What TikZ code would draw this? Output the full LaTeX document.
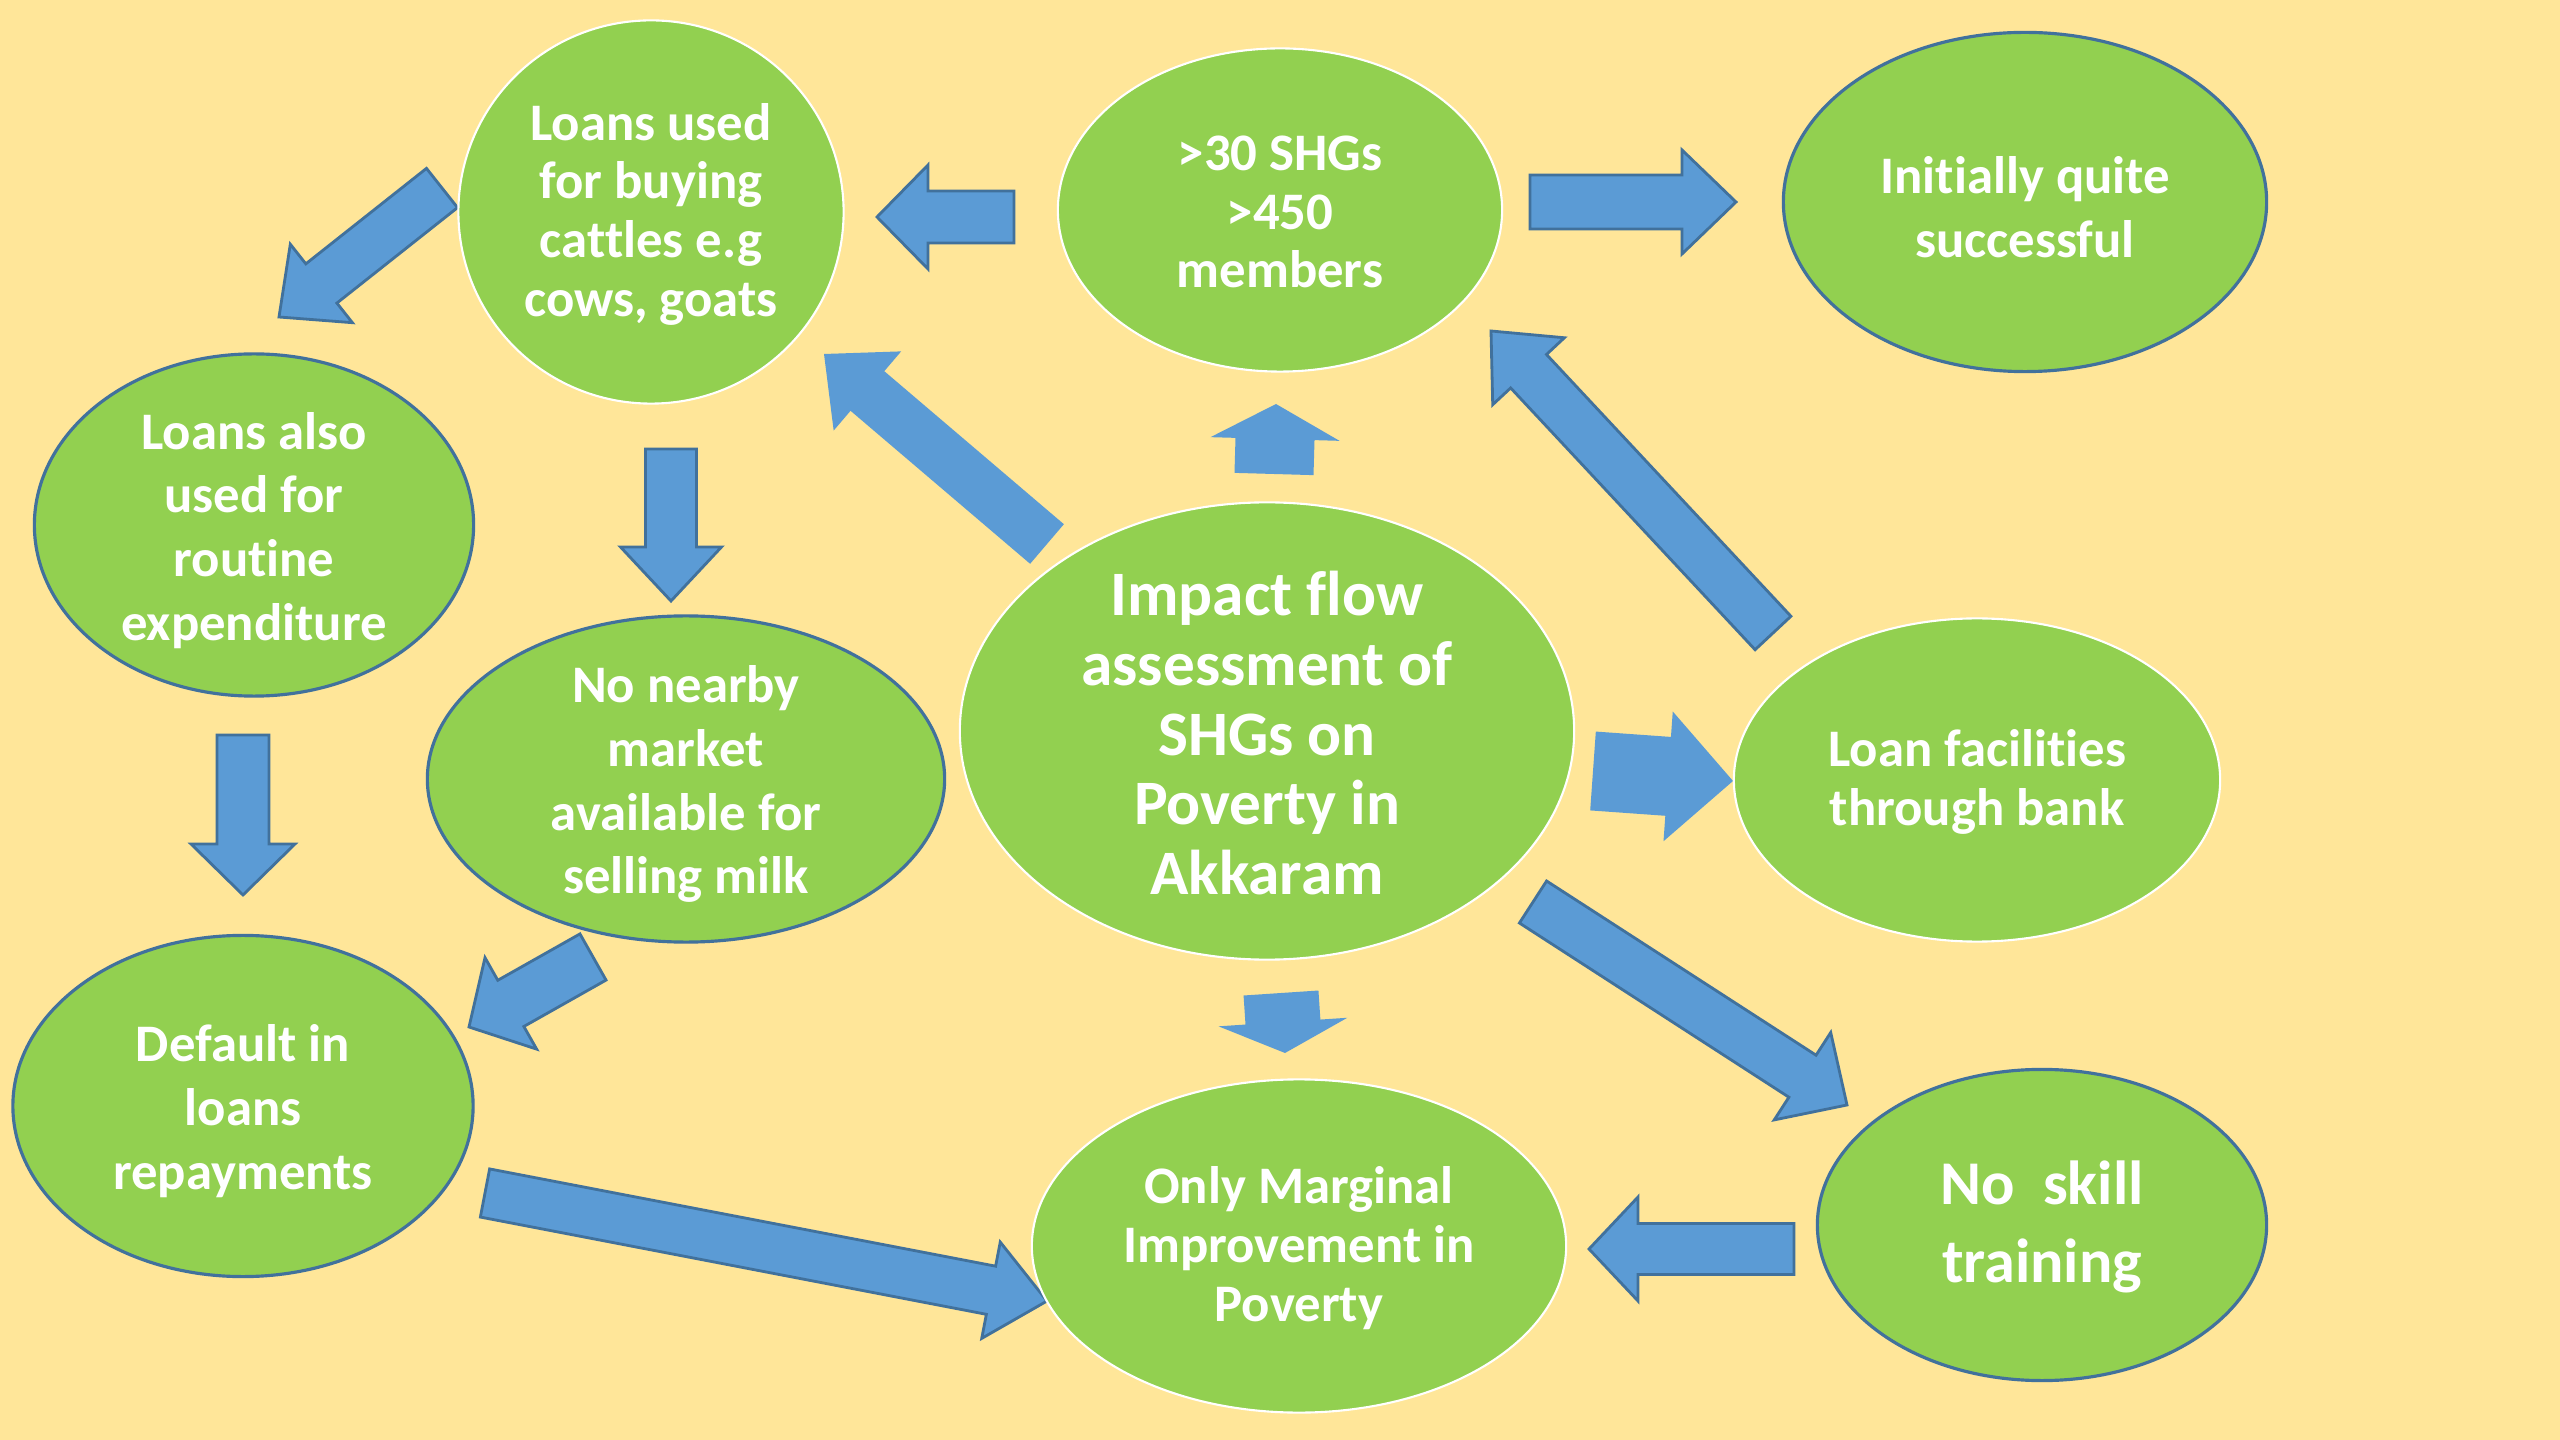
\documentclass[tikz,border=0pt]{standalone}
\usepackage{fontspec}
\setmainfont{Carlito}[Ligatures={NoCommon,NoContextual}]
\usetikzlibrary{shapes.geometric,calc}

\definecolor{paper}{HTML}{FFE699}
\definecolor{leaf}{HTML}{92D050}
\definecolor{arrowblue}{HTML}{5B9BD5}
\definecolor{edgeblue}{HTML}{41719C}

% block arrow: [style]{tail}{tip}{half shaft}{half head}{head length}
\newcommand{\fatarrow}[6][blk]{%
	\coordinate (neck) at ($(#3)!#6!(#2)$);
	\path[#1] ($(#2)!#4!-90:(#3)$) -- ($(#2)!#4!90:(#3)$)
		-- ($(neck)!#4!90:(#3)$) -- ($(neck)!#5!90:(#3)$) -- (#3)
		-- ($(neck)!#5!-90:(#3)$) -- ($(neck)!#4!-90:(#3)$) -- cycle;
}

\begin{document}
\begin{tikzpicture}[x=0.01cm, y=-0.01cm,
		bub/.style={ellipse, fill=leaf, draw=white, line width=0.6pt, inner sep=0pt},
		bubline/.style={bub, draw=edgeblue, line width=0.9pt},
		txt/.style={text=white, align=center, yshift=-0.6pt, font=\bfseries\fontsize{15}{16.7}\selectfont},
		txtloose/.style={txt, yshift=-0.9pt, font=\bfseries\fontsize{15}{18.1}\selectfont},
		blk/.style={fill=arrowblue},
		blkline/.style={fill=arrowblue, draw=edgeblue, line width=0.8pt, line join=miter}]
	\fill[paper] (0,0) rectangle (2560,1440);

	% arrow ends
	\coordinate (shg-w) at (1014,217);   \coordinate (buy-e) at (877,217);
	\coordinate (shg-e) at (1530,202);   \coordinate (init-w) at (1736,202);
	\coordinate (buy-sw) at (442,188);   \coordinate (routine-ne) at (279,317);
	\coordinate (buy-s) at (671,449);    \coordinate (market-n) at (671,601);
	\coordinate (routine-s) at (243,735); \coordinate (default-n) at (243,895);
	\coordinate (market-sw) at (593,957); \coordinate (default-ne) at (469,1027);
	\coordinate (default-e) at (485,1193); \coordinate (marginal-w) at (1047,1301);
	\coordinate (hub-nw) at (1047,544);  \coordinate (buy-se) at (824,354);
	\coordinate (hub-n) at (1274,474);   \coordinate (shg-s) at (1276,404);
	\coordinate (hub-s) at (1281,993);   \coordinate (marginal-n) at (1285,1053);
	\coordinate (hub-e) at (1593,771);   \coordinate (bank-w) at (1733,781);
	\coordinate (bank-nw) at (1773,633); \coordinate (shg-se) at (1491,331);
	\coordinate (hub-se) at (1533,902);  \coordinate (skill-nw) at (1847,1105);
	\coordinate (skill-w) at (1794,1249); \coordinate (marginal-e) at (1589,1249);

	\fatarrow[blkline]{shg-w}{buy-e}{0.26cm}{0.52cm}{0.51cm}
	\fatarrow[blkline]{shg-e}{init-w}{0.27cm}{0.52cm}{0.54cm}
	\fatarrow[blkline]{buy-sw}{routine-ne}{0.25cm}{0.50cm}{0.54cm}
	\fatarrow[blkline]{buy-s}{market-n}{0.255cm}{0.505cm}{0.54cm}
	\fatarrow[blkline]{routine-s}{default-n}{0.26cm}{0.52cm}{0.51cm}
	\fatarrow[blkline]{market-sw}{default-ne}{0.265cm}{0.525cm}{0.48cm}
	\fatarrow[blkline]{default-e}{marginal-w}{0.245cm}{0.49cm}{0.57cm}
	\fatarrow{hub-nw}{buy-se}{0.26cm}{0.52cm}{0.57cm}
	\fatarrow{hub-n}{shg-s}{0.395cm}{0.645cm}{0.35cm}
	\fatarrow{hub-s}{marginal-n}{0.375cm}{0.645cm}{0.31cm}
	\fatarrow{hub-e}{bank-w}{0.395cm}{0.65cm}{0.65cm}
	\fatarrow[blkline]{bank-nw}{shg-se}{0.245cm}{0.49cm}{0.55cm}
	\fatarrow[blkline]{hub-se}{skill-nw}{0.25cm}{0.52cm}{0.53cm}
	\fatarrow[blkline]{skill-w}{marginal-e}{0.255cm}{0.52cm}{0.49cm}

	% bubbles
	\node[bub, minimum width=3.85cm, minimum height=3.83cm,
		label={[txt]center:{Loans used\\for buying\\cattles e.g\\cows, goats}}] (buy) at (651,212) {};
	\node[bub, minimum width=4.44cm, minimum height=3.23cm,
		label={[txt]center:{>30 SHGs\\>450\\members}}] (shg) at (1280,210) {};
	\node[bubline, minimum width=4.83cm, minimum height=3.39cm,
		label={[txtloose]center:{Initially quite\\successful}}] (init) at (2025,202) {};
	\node[bubline, minimum width=4.39cm, minimum height=3.42cm,
		label={[txtloose]center:{Loans also\\used for\\routine\\expenditure}}] (routine) at (254,525) {};
	\node[bubline, minimum width=5.17cm, minimum height=3.26cm,
		label={[txtloose]center:{No nearby\\market\\available for\\selling milk}}] (market) at (686,779) {};
	\node[bub, minimum width=6.14cm, minimum height=4.57cm,
		label={[txt, font=\bfseries\fontsize{18}{19.8}\selectfont]center:{Impact flow\\assessment of\\SHGs on\\Poverty in\\Akkaram}}] (hub) at (1267,731) {};
	\node[bub, minimum width=4.86cm, minimum height=3.23cm,
		label={[txt]center:{Loan facilities\\through bank}}] (bank) at (1977,780) {};
	\node[bubline, minimum width=4.60cm, minimum height=3.41cm,
		label={[txtloose]center:{Default in\\loans\\repayments}}] (default) at (243,1106) {};
	\node[bub, minimum width=5.34cm, minimum height=3.33cm,
		label={[txt]center:{Only Marginal\\Improvement in\\Poverty}}] (marginal) at (1299,1246) {};
	\node[bubline, minimum width=4.49cm, minimum height=3.11cm,
		label={[txt, font=\bfseries\fontsize{17.7}{22}\selectfont]center:{No~~skill\\training}}] (skill) at (2042,1225) {};
\end{tikzpicture}
\end{document}
